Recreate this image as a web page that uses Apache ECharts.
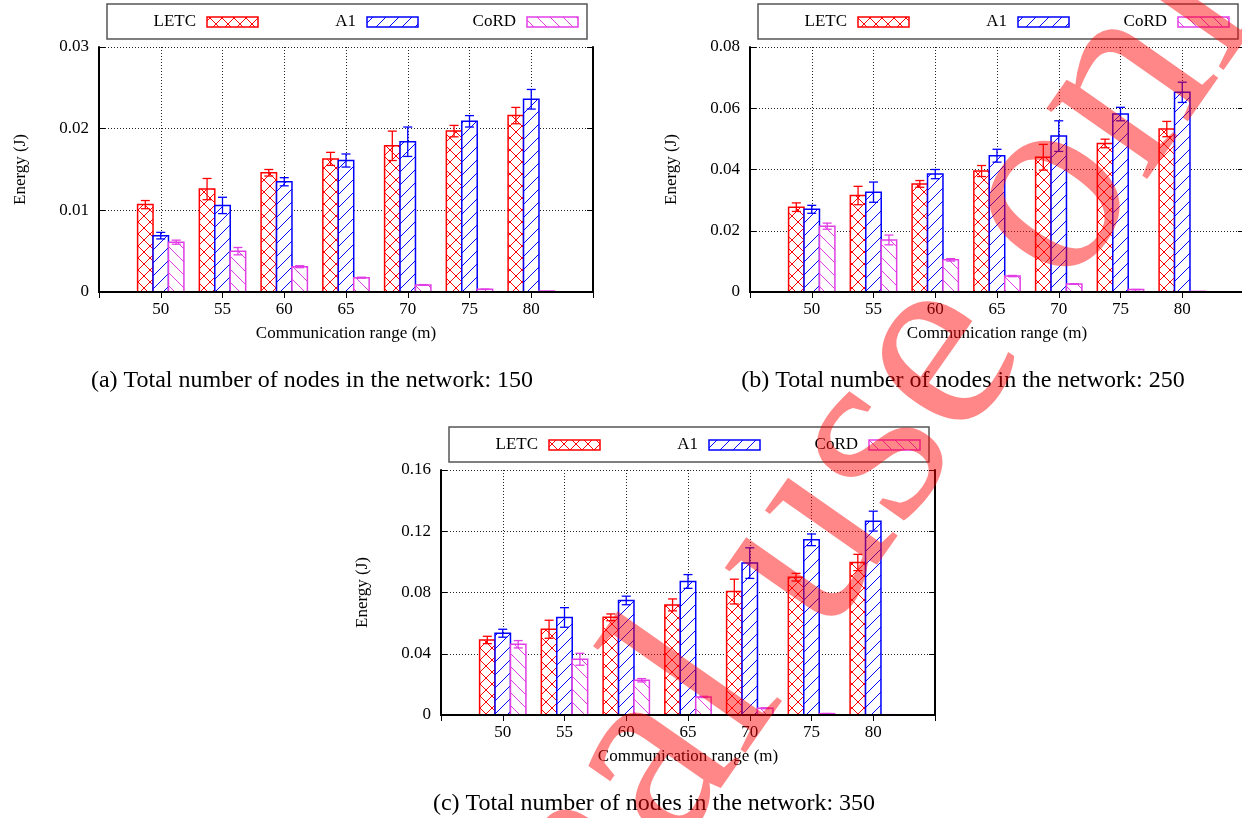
<!DOCTYPE html>
<html>
<head>
<meta charset="utf-8">
<script src="https://cdn.jsdelivr.net/npm/echarts@6/dist/echarts.min.js"></script>
<style>
  html, body { margin: 0; background: #fff; }
  #chart { width: 1242px; height: 818px; }
</style>
</head>
<body>
<div id="chart"></div>
<script>
// ---- data ----
const ranges = [50, 55, 60, 65, 70, 75, 80];
const seriesNames = ['LETC', 'A1', 'CoRD'];
const nodeCounts = [150, 250, 350];

// 150 nodes
const letc150    = [0.0107, 0.0126, 0.0146, 0.0163, 0.0179, 0.0197, 0.0216];
const letc150Err = [0.0005, 0.0013, 0.0004, 0.0008, 0.0018, 0.0007, 0.0010];
const a1_150     = [0.0069, 0.0106, 0.0135, 0.0161, 0.0184, 0.0209, 0.0236];
const a1_150Err  = [0.0004, 0.0010, 0.0005, 0.0008, 0.0018, 0.0007, 0.0012];
const cord150    = [0.0061, 0.0050, 0.0031, 0.00175, 0.00086, 0.00033, 0.00012];
const cord150Err = [0.00025, 0.00045, 0.00012, 0.00006, 0.00005, 0.00002, 0];

// 250 nodes
const letc250    = [0.0277, 0.0315, 0.0353, 0.0395, 0.0440, 0.0485, 0.0532];
const letc250Err = [0.0014, 0.0030, 0.0011, 0.0018, 0.0042, 0.0014, 0.0025];
const a1_250     = [0.0270, 0.0326, 0.0385, 0.0445, 0.0509, 0.0581, 0.0652];
const a1_250Err  = [0.0013, 0.0033, 0.0015, 0.0021, 0.0050, 0.0022, 0.0033];
const cord250    = [0.0215, 0.0170, 0.0105, 0.0052, 0.0026, 0.0008, 0.0002];
const cord250Err = [0.0010, 0.0016, 0.0004, 0.0002, 0.0001, 0.00003, 0];

// 350 nodes
const letc350    = [0.0490, 0.0560, 0.0638, 0.0719, 0.0806, 0.0900, 0.0996];
const letc350Err = [0.0024, 0.0059, 0.0022, 0.0039, 0.0081, 0.0025, 0.0053];
const a1_350     = [0.0534, 0.0637, 0.0748, 0.0872, 0.0992, 0.1144, 0.1266];
const a1_350Err  = [0.0026, 0.0064, 0.0028, 0.0045, 0.0100, 0.0038, 0.0065];
const cord350    = [0.0462, 0.0364, 0.0227, 0.0118, 0.0044, 0.0009, 0.0002];
const cord350Err = [0.0024, 0.0039, 0.0011, 0.0004, 0.0003, 0.0001, 0];

const yMaxes = [0.03, 0.08, 0.16];
const yIntervals = [0.01, 0.02, 0.04];

const panelData = [
  [[letc150, letc150Err], [a1_150, a1_150Err], [cord150, cord150Err]],
  [[letc250, letc250Err], [a1_250, a1_250Err], [cord250, cord250Err]],
  [[letc350, letc350Err], [a1_350, a1_350Err], [cord350, cord350Err]]
];

// ---- layout / style ----
const panels = [
  { left: 99,  top: 47,  tag: '(a)' },
  { left: 750, top: 47,  tag: '(b)' },
  { left: 441, top: 470, tag: '(c)' }
];
const PW = 494, PH = 245;
const SERIF = '"Liberation Serif", "Times New Roman", serif';
const colors = ['#ff0000', '#0000ff', '#e23ee6'];

// hatch fill like gnuplot patterns (white background)
function hatch(color, kinds, size, lw) {
  const c = document.createElement('canvas');
  c.width = c.height = size;
  const g = c.getContext('2d');
  g.fillStyle = '#fff';
  g.fillRect(0, 0, size, size);
  g.strokeStyle = color;
  g.lineWidth = lw;
  kinds.forEach(function (k) {
    for (let o = -size; o <= size; o += size) {
      g.beginPath();
      if (k === '/') { g.moveTo(o, size); g.lineTo(o + size, 0); }
      else { g.moveTo(o, 0); g.lineTo(o + size, size); }
      g.stroke();
    }
  });
  return { image: c, repeat: 'repeat' };
}
const patterns = [
  hatch(colors[0], ['/', '\\'], 12, 1),
  hatch(colors[1], ['/'], 13, 1),
  hatch(colors[2], ['\\'], 13, 1)
];

function makeRender(s) {
  return function (params, api) {
    const x = api.value(0), v = api.value(1), e = api.value(2);
    const w = api.size([5, 0])[0] * 0.25;
    const base = api.coord([x, 0]);
    const top = api.coord([x, v]);
    const cx = base[0] + (s - 1) * w;
    const children = [{
      type: 'rect',
      shape: { x: cx - w / 2, y: top[1], width: w, height: base[1] - top[1] },
      style: { fill: patterns[s], stroke: colors[s], lineWidth: 1.5 }
    }];
    if (e > 0) {
      const hi = api.coord([x, v + e])[1];
      const lo = api.coord([x, v - e])[1];
      const st = { stroke: colors[s], lineWidth: 1.3 };
      children.push(
        { type: 'line', shape: { x1: cx, y1: hi, x2: cx, y2: lo }, style: st },
        { type: 'line', shape: { x1: cx - 4.5, y1: hi, x2: cx + 4.5, y2: hi }, style: st },
        { type: 'line', shape: { x1: cx - 4.5, y1: lo, x2: cx + 4.5, y2: lo }, style: st }
      );
    }
    return { type: 'group', children: children };
  };
}

const dotted = { color: '#222', width: 1, type: [1, 2] };
const grid = [], xAxis = [], yAxis = [], series = [], graphic = [];

panels.forEach(function (p, i) {
  grid.push({ left: p.left, top: p.top, width: PW, height: PH, outerBoundsMode: 'none', show: false });

  // bottom x axis: labels + name, drawn above bars
  xAxis.push({
    type: 'value', gridIndex: i, min: 45, max: 85, interval: 5, z: 5,
    axisLine: { show: true, lineStyle: { color: '#000', width: 2 } },
    axisTick: { show: false },
    splitLine: { show: false },
    axisLabel: {
      margin: 9, color: '#000', fontFamily: SERIF, fontSize: 17,
      formatter: function (v) { return (v <= 45 || v >= 85) ? '' : String(v); }
    },
    name: 'Communication range (m)', nameLocation: 'middle', nameGap: 33,
    nameTextStyle: { color: '#000', fontFamily: SERIF, fontSize: 17 }
  });
  // top x axis: vertical dotted grid + mirror ticks, behind bars
  xAxis.push({
    type: 'value', gridIndex: i, min: 45, max: 85, interval: 5, position: 'top', z: 0,
    axisLine: { show: true, lineStyle: { color: '#000', width: 2 } },
    axisTick: { show: true, inside: true, length: 6, lineStyle: { color: '#000' } },
    axisLabel: { show: false },
    splitLine: { show: true, lineStyle: dotted }
  });
  // left y axis
  yAxis.push({
    type: 'value', gridIndex: i, min: 0, max: yMaxes[i], interval: yIntervals[i], z: 5,
    axisLine: { show: true, lineStyle: { color: '#000', width: 2 } },
    axisTick: { show: true, inside: true, length: 6, lineStyle: { color: '#000' } },
    splitLine: { show: false },
    axisLabel: {
      margin: 10, color: '#000', fontFamily: SERIF, fontSize: 17,
      formatter: function (v) { return v === 0 ? '0' : String(+v.toFixed(2)); }
    },
    name: 'Energy (J)', nameLocation: 'middle', nameGap: 70, nameRotate: 90,
    nameTextStyle: { color: '#000', fontFamily: SERIF, fontSize: 17 }
  });
  // right y axis: horizontal dotted grid + mirror ticks
  yAxis.push({
    type: 'value', gridIndex: i, min: 0, max: yMaxes[i], interval: yIntervals[i], position: 'right', z: 0,
    axisLine: { show: true, lineStyle: { color: '#000', width: 2 } },
    axisTick: { show: true, inside: true, length: 6, lineStyle: { color: '#000' } },
    axisLabel: { show: false },
    splitLine: { show: true, lineStyle: dotted }
  });

  seriesNames.forEach(function (name, s) {
    const vals = panelData[i][s][0], errs = panelData[i][s][1];
    series.push({
      type: 'custom', name: name, xAxisIndex: i * 2, yAxisIndex: i * 2, z: 2,
      encode: { x: 0, y: 1 },
      data: ranges.map(function (r, k) { return [r, vals[k], errs[k]]; }),
      renderItem: makeRender(s)
    });
  });

  // gnuplot style key box
  const L = p.left + 8, T = p.top - 43;
  graphic.push({
    type: 'rect', z: 10,
    shape: { x: L, y: T, width: 480, height: 35 },
    style: { fill: '#fff', stroke: '#555', lineWidth: 1.5 }
  });
  seriesNames.forEach(function (name, s) {
    graphic.push({
      type: 'text', z: 11,
      style: { text: name, x: L + 89 + 160 * s, y: T + 18, align: 'right', verticalAlign: 'middle',
               font: '17px ' + SERIF, fill: '#000' }
    });
    graphic.push({
      type: 'rect', z: 11,
      shape: { x: L + 100 + 160 * s, y: T + 13, width: 51, height: 10 },
      style: { fill: patterns[s], stroke: colors[s], lineWidth: 1.5 }
    });
  });

  // sub-figure caption
  graphic.push({
    type: 'text', z: 10,
    style: { text: p.tag + ' Total number of nodes in the network: ' + nodeCounts[i],
             x: p.left + PW / 2 - 34, y: p.top + PH + 89, align: 'center', verticalAlign: 'middle',
             font: '24px ' + SERIF, fill: '#000' }
  });
});

// red translucent watermark across the page
graphic.push({
  type: 'text', z: 100, x: 198, y: 1412, rotation: 55 * Math.PI / 180,
  style: { text: 'Personal use only', x: 0, y: 0, align: 'left', verticalAlign: 'middle',
           font: '268px ' + SERIF, fill: 'rgba(255,0,0,0.47)' }
});

const chart = echarts.init(document.getElementById('chart'));
chart.setOption({
  animation: false,
  backgroundColor: '#fff',
  grid: grid,
  xAxis: xAxis,
  yAxis: yAxis,
  series: series,
  graphic: graphic
});
</script>
</body>
</html>
